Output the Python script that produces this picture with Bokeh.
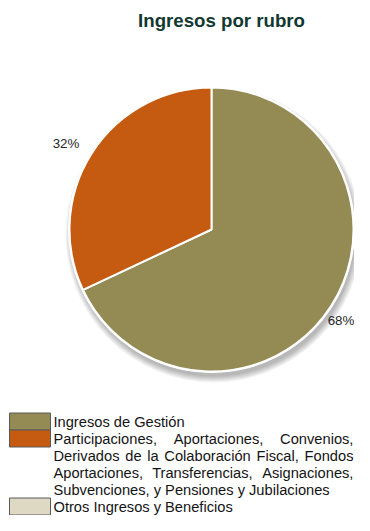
import math
from bokeh.plotting import figure
from bokeh.models import Range1d, ColumnDataSource
from bokeh.core.properties import value
from bokeh.embed import file_html
from bokeh.resources import INLINE

# ---------------- data ----------------
title = "Ingresos por rubro"
categories = [
    "Ingresos de Gestión",
    "Participaciones, Aportaciones, Convenios, Derivados de la Colaboración Fiscal, Fondos Aportaciones, Transferencias, Asignaciones, Subvenciones, y Pensiones y Jubilaciones",
    "Otros Ingresos y Beneficios",
]
values = [68, 32, 0]
colors = ["#948A54", "#C55A11", "#DDD9C3"]

# ---------------- layout (plot pixel coords, y up) ----------------
W, H = 354, 515
CX, CY, R = 211, 286, 142
FONT = "Liberation Sans"
LEG_PX = 14.67

# Arial / Liberation Sans advance widths (per 1000 em)
AW = {' ': 278, ',': 278, '.': 278, '%': 889,
      'a': 556, 'b': 556, 'c': 500, 'd': 556, 'e': 556, 'f': 278, 'g': 556, 'h': 556,
      'i': 222, 'j': 222, 'k': 500, 'l': 222, 'm': 833, 'n': 556, 'o': 556, 'p': 556,
      'q': 556, 'r': 333, 's': 500, 't': 278, 'u': 556, 'v': 500, 'w': 722, 'x': 500,
      'y': 500, 'z': 500, 'ó': 556, 'á': 556, 'é': 556, 'í': 222, 'ú': 556,
      'A': 667, 'B': 667, 'C': 722, 'D': 722, 'E': 667, 'F': 611, 'G': 778, 'I': 278,
      'J': 500, 'O': 778, 'P': 667, 'S': 667, 'T': 611}


def tw(s, px=LEG_PX):
    return sum(AW.get(ch, 556) for ch in s) * px / 1000.0


p = figure(width=W, height=H, x_range=Range1d(0, W), y_range=Range1d(0, H),
           output_backend="svg", toolbar_location=None, min_border=0,
           x_axis_type=None, y_axis_type=None)
p.grid.visible = False
p.outline_line_color = None
p.background_fill_color = "white"
p.border_fill_color = "white"

# title
p.text(x=[221], y=[495], text=[title], text_font=value(FONT), text_font_size="18.67px",
       text_font_style="bold", text_color="#123832", text_align="center",
       text_baseline="middle")

# shadow
for k in range(7):
    p.circle(x=[CX + 2], y=[CY - 5], radius=R + 6 - k, fill_color="#000000",
             fill_alpha=0.045, line_color=None)
p.circle(x=[CX], y=[CY], radius=R + 1.5, fill_color="white", line_color=None)

# wedges
total = float(sum(values))
starts, ends, cols, mids, labs = [], [], [], [], []
cum = 0.0
for v, c in zip(values, colors):
    a0 = math.pi / 2 - 2 * math.pi * cum / total
    cum += v
    a1 = math.pi / 2 - 2 * math.pi * cum / total
    if v > 0:
        starts.append(a0)
        ends.append(a1)
        cols.append(c)
        mids.append((a0 + a1) / 2)
        labs.append(f"{round(v / total * 100)}%")

src = ColumnDataSource(dict(start=starts, end=ends, color=cols))
p.wedge(x=CX, y=CY, radius=R, start_angle="start", end_angle="end", direction="clock",
        fill_color="color", line_color="white", line_width=2, source=src)

# percent labels
lab_r = R + 28
lab_off = [(-14, 0), (-2, 5)]  # style nudges (screen px)
for i, (m, t) in enumerate(zip(mids, labs)):
    xo, yo = lab_off[i] if i < len(lab_off) else (0, 0)
    p.text(x=[CX + lab_r * math.cos(m)], y=[CY + lab_r * math.sin(m)], text=[t],
           text_font=value(FONT), text_font_size="13.33px", text_color="#262626",
           text_align="center", text_baseline="middle", x_offset=xo, y_offset=yo)

# legend (justified text)
TX0, TX1 = 53, 353
LINE = 17
box_x0, box_x1 = 9, 50
y_line = 94
for cat, col in zip(categories, colors):
    words = cat.split(" ")
    lines, cur = [], []
    for wd in words:
        trial = cur + [wd]
        if cur and tw(" ".join(trial)) > TX1 - TX0:
            lines.append(cur)
            cur = [wd]
        else:
            cur = trial
    lines.append(cur)
    p.quad(left=[box_x0], right=[box_x1], bottom=[y_line - 8.5], top=[y_line + 8.5],
           fill_color=col, line_color="#5a5a5a", line_width=1)
    for li, ln in enumerate(lines):
        yy = y_line - li * LINE
        if li < len(lines) - 1 and len(ln) > 1:
            wsum = sum(tw(w) for w in ln)
            gap = (TX1 - TX0 - wsum) / (len(ln) - 1)
            xx = TX0
            xs = []
            for w in ln:
                xs.append(xx)
                xx += tw(w) + gap
            p.text(x=xs, y=[yy] * len(ln), text=ln, text_font=value(FONT),
                   text_font_size=f"{LEG_PX}px", text_color="#141414",
                   text_align="left", text_baseline="middle")
        else:
            p.text(x=[TX0], y=[yy], text=[" ".join(ln)], text_font=value(FONT),
                   text_font_size=f"{LEG_PX}px", text_color="#141414",
                   text_align="left", text_baseline="middle")
    y_line -= LINE * len(lines)

open("out.html", "w").write(file_html(p, INLINE))
